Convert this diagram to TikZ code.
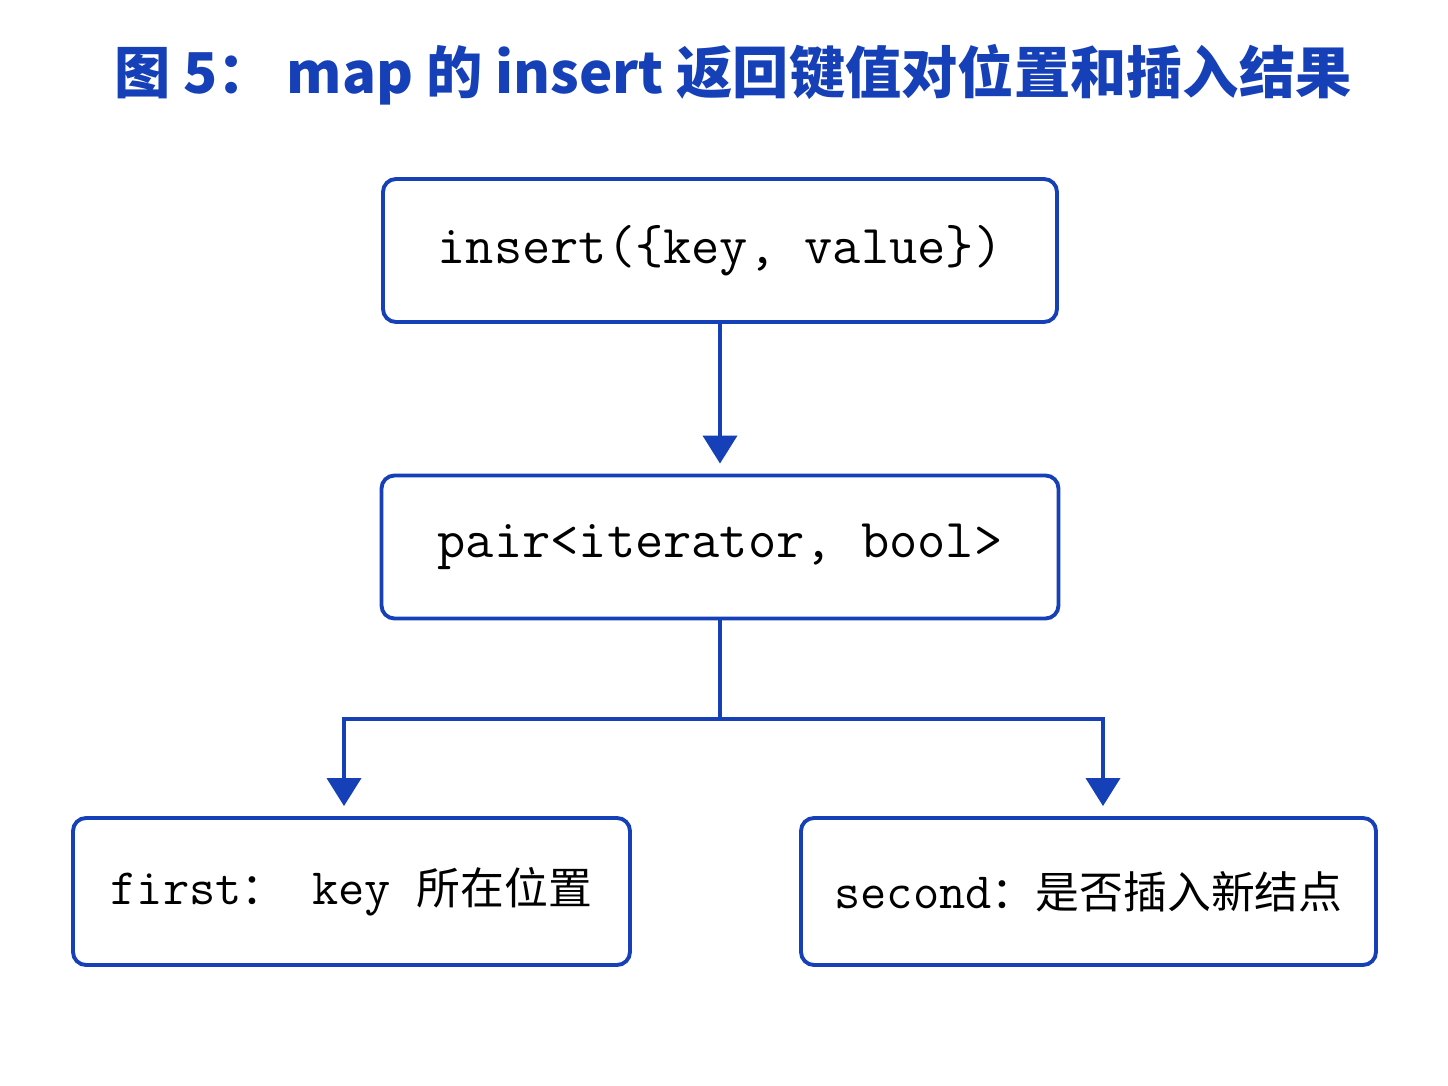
\documentclass[tikz,border=0pt]{standalone}
\usepackage{fontspec}
\usepackage{tikz}
\usetikzlibrary{arrows.meta,positioning,calc}
\newfontfamily\cjk[Scale=0.86]{Noto Sans CJK SC}
\newfontfamily\titlefont{Noto Sans CJK SC}
\definecolor{mapblue}{RGB}{22,64,184}

\begin{document}
\begin{tikzpicture}
[codebox/.style={draw=mapblue,fill=white,rectangle,rounded corners=0.13cm,line width=1.1pt,inner sep=0pt,minimum height=1.43cm,font=\ttfamily\fontsize{15.6}{18}\selectfont},
fieldbox/.style={codebox,minimum height=1.47cm,font=\ttfamily\fontsize{14.5}{17}\selectfont},
forkto/.style={edge from parent path={(\tikzparentnode.south) -- ++(0,-0.99) -| ([xshift=#1]\tikzchildnode.north)}},
level 1/.style={level distance=2.965cm},
level 2/.style={level distance=3.445cm,sibling distance=7.37cm},
edge from parent/.style={draw=mapblue,line width=1.1pt,-{Triangle[width=0.34cm,length=0.28cm]},shorten >=0.1cm}]
\useasboundingbox[fill=white] (0,0) rectangle (14.48,-10.86);
\node (title) at (7.33,-0.75) {\titlefont\bfseries\color{mapblue}\fontsize{16}{19}\selectfont 图 5： map 的 insert 返回键值对位置和插入结果};
\node (call) at (7.2,-2.505) [codebox,minimum width=6.74cm] {insert(\{key, value\})}
child {node (result) [codebox,minimum width=6.77cm] {pair<iterator, bool>}
child[forkto=-0.075cm] {node (first) [fieldbox,minimum width=5.57cm] {first{\cjk ：} key {\cjk 所在位置}}}
child[forkto=0.145cm] {node (second) [fieldbox,minimum width=5.75cm] {second{\cjk ：是否插入新结点}}}
};
\end{tikzpicture}
\end{document}
